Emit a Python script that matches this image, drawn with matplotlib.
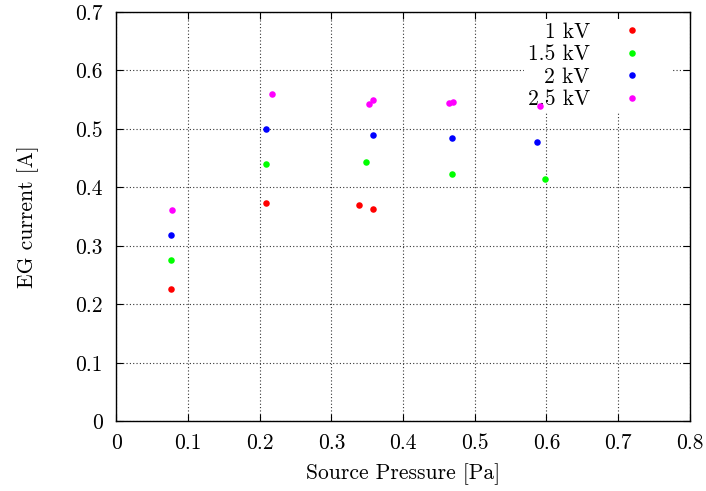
import matplotlib
matplotlib.use("Agg")
import matplotlib.pyplot as plt

plt.rcParams['font.family'] = ['cmr10', 'DejaVu Serif']
plt.rcParams['mathtext.fontset'] = 'cm'
plt.rcParams['axes.formatter.use_mathtext'] = True

# Measured EG current versus source pressure at four voltages
series_labels = ["1 kV", "1.5 kV", "2 kV", "2.5 kV"]
series_colors = ["#ff0000", "#00ff00", "#0000ff", "#ff00ff"]

p_1kV = [0.076, 0.209, 0.338, 0.358]
i_1kV = [0.226, 0.373, 0.370, 0.363]

p_1p5kV = [0.076, 0.209, 0.348, 0.468, 0.598]
i_1p5kV = [0.276, 0.440, 0.444, 0.422, 0.414]

p_2kV = [0.076, 0.209, 0.358, 0.468, 0.587]
i_2kV = [0.3185, 0.500, 0.489, 0.484, 0.477]

p_2p5kV = [0.077, 0.2165, 0.353, 0.358, 0.464, 0.469, 0.591]
i_2p5kV = [0.361, 0.5595, 0.543, 0.549, 0.544, 0.545, 0.539]

x_ticks = [0, 0.1, 0.2, 0.3, 0.4, 0.5, 0.6, 0.7, 0.8]
x_tick_labels = ["0", "0.1", "0.2", "0.3", "0.4", "0.5", "0.6", "0.7", "0.8"]
y_ticks = [0, 0.1, 0.2, 0.3, 0.4, 0.5, 0.6, 0.7]
y_tick_labels = ["0", "0.1", "0.2", "0.3", "0.4", "0.5", "0.6", "0.7"]

xs = [p_1kV, p_1p5kV, p_2kV, p_2p5kV]
ys = [i_1kV, i_1p5kV, i_2kV, i_2p5kV]

FS = 15.5

fig = plt.figure(figsize=(7.06, 4.91), dpi=100)
ax = fig.add_axes([0.165, 0.142, 0.812, 0.834])

for x, y, lab, col in zip(xs, ys, series_labels, series_colors):
    ax.plot(x, y, linestyle='none', marker='o', markersize=4.7,
            markeredgewidth=0, color=col, label=lab, zorder=5)

ax.set_xlim(0, 0.8)
ax.set_ylim(0, 0.7)
ax.set_xticks(x_ticks)
ax.set_xticklabels(x_tick_labels)
ax.set_yticks(y_ticks)
ax.set_yticklabels(y_tick_labels)

ax.tick_params(direction='in', length=5, width=0.8, top=True, right=True,
               labelsize=FS, colors='black')
ax.tick_params(axis='x', pad=9)
ax.tick_params(axis='y', pad=10)
ax.grid(True, color='#333333', linestyle=(0, (1, 2)), linewidth=0.8)
ax.set_axisbelow(True)
for s in ax.spines.values():
    s.set_linewidth(1.0)
    s.set_color('black')

ax.set_xlabel("Source Pressure [Pa]", fontsize=FS, labelpad=7)
ax.set_ylabel("EG current [A]", fontsize=FS, labelpad=26)

leg = ax.legend(loc='upper right', bbox_to_anchor=(0.9725, 0.988),
                markerfirst=False, frameon=True, fancybox=False,
                edgecolor='none', facecolor='white', framealpha=1.0,
                fontsize=FS, labelspacing=0.14, handlelength=3.36,
                handletextpad=0.3, borderpad=0.15, borderaxespad=0.1)
leg.set_zorder(4)

fig.savefig("out.png", dpi=100)
